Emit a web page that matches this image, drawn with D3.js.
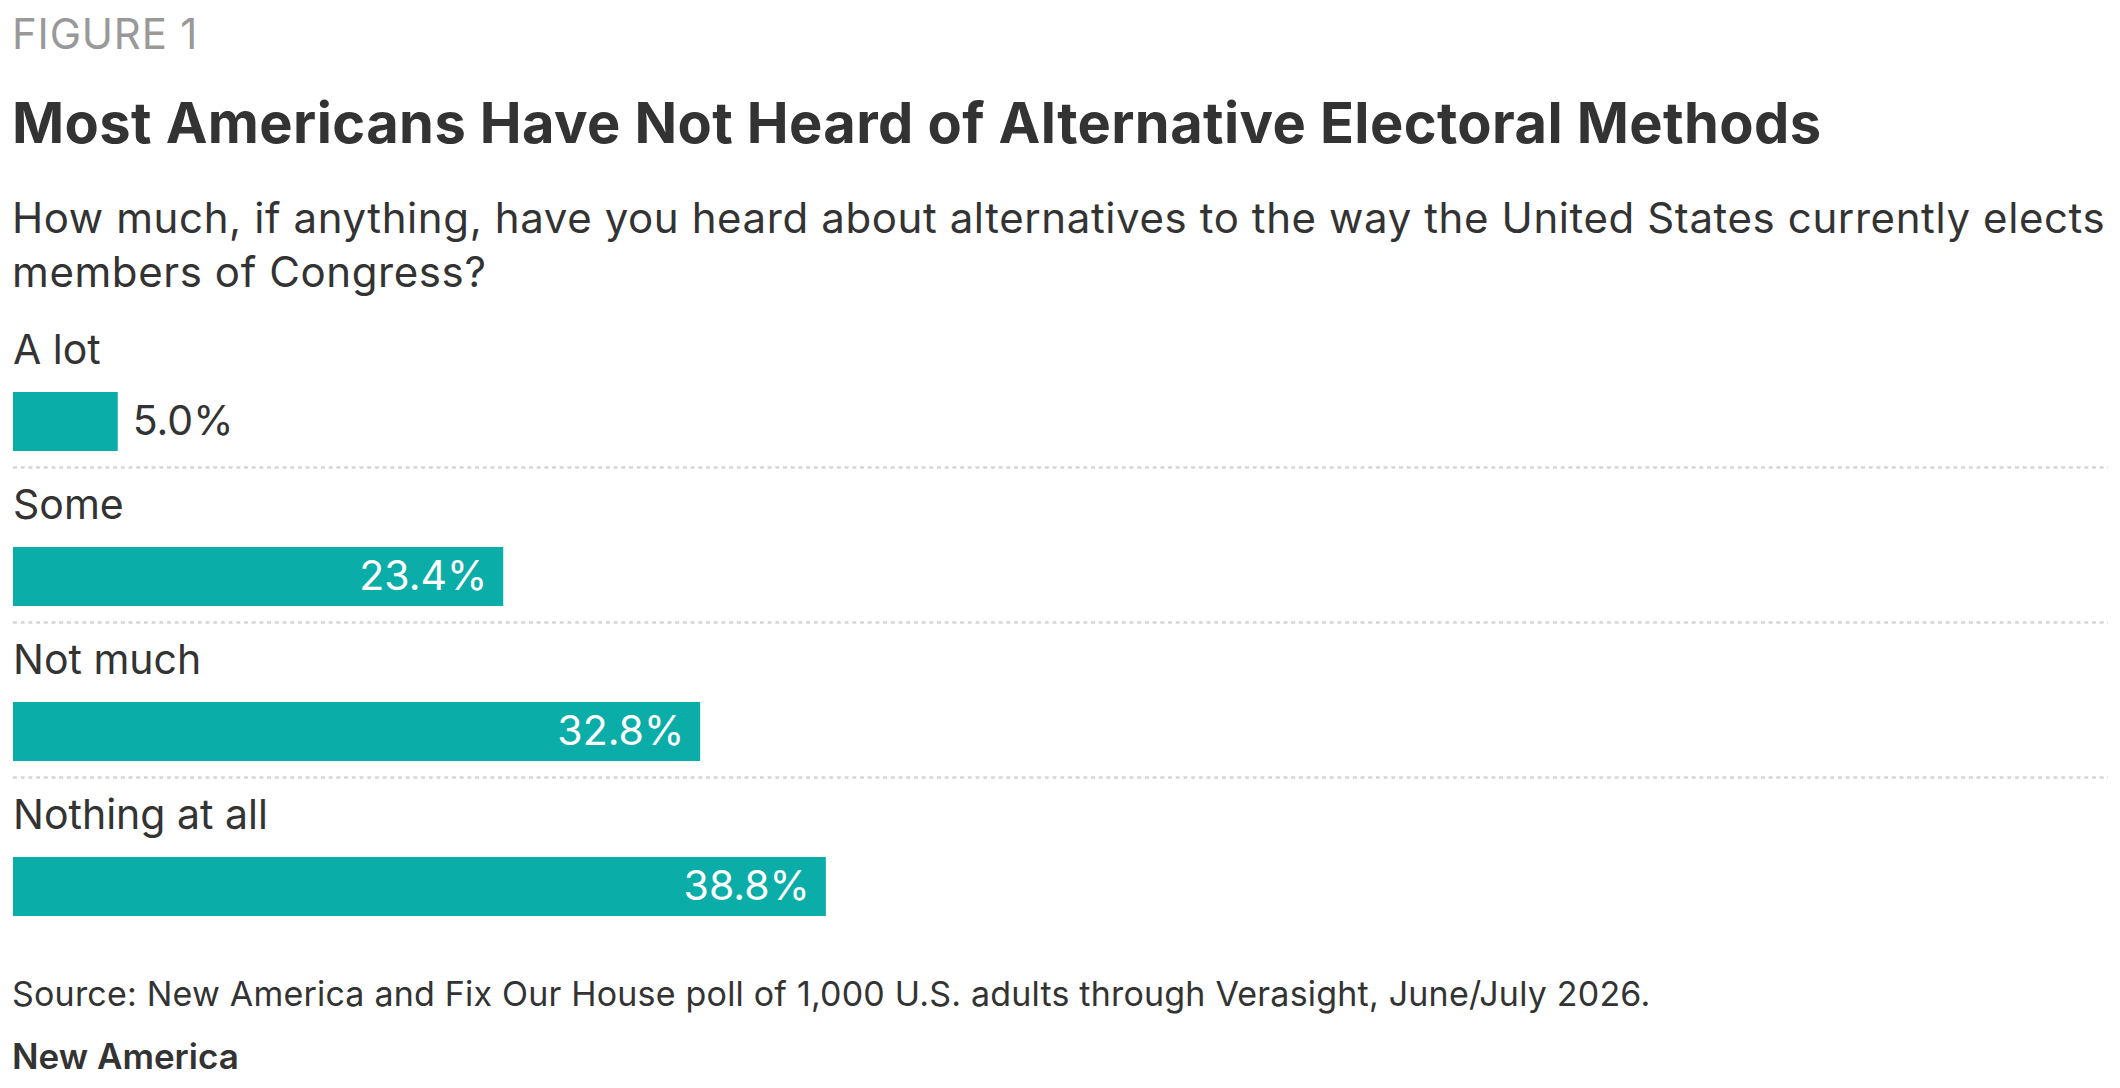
<!DOCTYPE html>
<html>
<head>
<meta charset="utf-8">
<script src="https://cdn.jsdelivr.net/npm/d3@7"></script>
<style>
    html, body { margin: 0; padding: 0; background: #fff; }
    svg { display: block; font-family: Inter, "Noto Sans", sans-serif; }
</style>
</head>
<body>
<svg id="chart" width="2120" height="1088"></svg>
<script>
var categories = ['A lot', 'Some', 'Not much', 'Nothing at all'],
    values = [5.0, 23.4, 32.8, 38.8];

var kicker = 'FIGURE 1',
    title = 'Most Americans Have Not Heard of Alternative Electoral Methods',
    subtitleLines = [
        'How much, if anything, have you heard about alternatives to the way the United States currently elects',
        'members of Congress?'
    ],
    source = 'Source: New America and Fix Our House poll of 1,000 U.S. adults through Verasight, June/July 2026.',
    credit = 'New America';


var left = 13,
    right = 2108,
    rowTop = 310,
    rowStep = 155,
    barOffset = 82,
    barHeight = 59,
    teal = '#0aada7',
    ink = '#333333',
    fmt = function(v) { return d3.format('.1f')(v) + '%'; };

var svg = d3.select('#chart');

// header
svg.append('text')
    .attr('x', 12)
    .attr('y', 49)
    .attr('fill', '#999999')
    .style('font-size', '42px')
    .style('letter-spacing', '0.8px')
    .text(kicker);

svg.append('text')
    .attr('x', 12)
    .attr('y', 143)
    .attr('fill', ink)
    .style('font-size', '56px')
    .style('font-weight', 700)
    .style('letter-spacing', '0.4px')
    .text(title);

svg.append('g')
    .selectAll('text')
    .data(subtitleLines)
    .enter()
    .append('text')
    .attr('x', 12)
    .attr('y', function(d, i) { return 233 + i * 54; })
    .attr('fill', ink)
    .style('font-size', '42px')
    .style('letter-spacing', '0.6px')
    .text(function(d) { return d; });


var x = d3.scaleLinear()
    .domain([0, 100])
    .range([left, right]);

var y = d3.scaleBand()
    .domain(categories)
    .range([rowTop, rowTop + rowStep * categories.length])
    .paddingInner(0)
    .paddingOuter(0);

var data = categories.map(function(c, i) { return { key: c, value: values[i] }; });

var rows = svg.append('g')
    .attr('class', 'rows')
    .selectAll('.row')
    .data(data, function(d) { return d.key; })
    .enter()
    .append('g')
    .attr('class', 'row')
    .attr('transform', function(d) { return 'translate(0,' + y(d.key) + ')'; });

rows.append('text')
    .attr('class', 'cat-label')
    .attr('x', left)
    .attr('y', 54)
    .attr('fill', ink)
    .style('font-size', '41px')
    .text(function(d) { return d.key; });

rows.append('rect')
    .attr('x', x(0))
    .attr('y', barOffset)
    .attr('width', function(d) { return x(d.value) - x(0); })
    .attr('height', barHeight)
    .attr('fill', teal);

// value labels: inside when they fit, outside otherwise
rows.append('text')
    .attr('class', 'value-label')
    .style('font-size', '41px')
    .attr('y', barOffset + 43)
    .text(function(d) { return fmt(d.value); })
    .each(function(d) {
        var t = d3.select(this),
            w = this.getComputedTextLength(),
            barW = x(d.value) - x(0);
        if (w + 32 < barW) {
            t.attr('x', x(d.value) - 16).attr('text-anchor', 'end').attr('fill', '#ffffff');
        } else {
            t.attr('x', x(d.value) + 15).attr('text-anchor', 'start').attr('fill', ink);
        }
    });

// dotted separators between rows
svg.append('g')
    .attr('class', 'separators')
    .selectAll('line')
    .data(categories.slice(1))
    .enter()
    .append('line')
    .attr('x1', left)
    .attr('x2', right)
    .attr('y1', function(d) { return y(d) + 2.5; })
    .attr('y2', function(d) { return y(d) + 2.5; })
    .attr('stroke', '#d6d6d6')
    .attr('stroke-width', 2.7)
    .attr('stroke-dasharray', '4,3.7');

// footer
svg.append('text')
    .attr('x', 12)
    .attr('y', 1006)
    .attr('fill', ink)
    .style('font-size', '34px')
    .style('letter-spacing', '0.2px')
    .text(source);

svg.append('text')
    .attr('x', 12)
    .attr('y', 1069)
    .attr('fill', ink)
    .style('font-size', '35px')
    .style('font-weight', 600)
    .text(credit);
</script>
</body>
</html>
